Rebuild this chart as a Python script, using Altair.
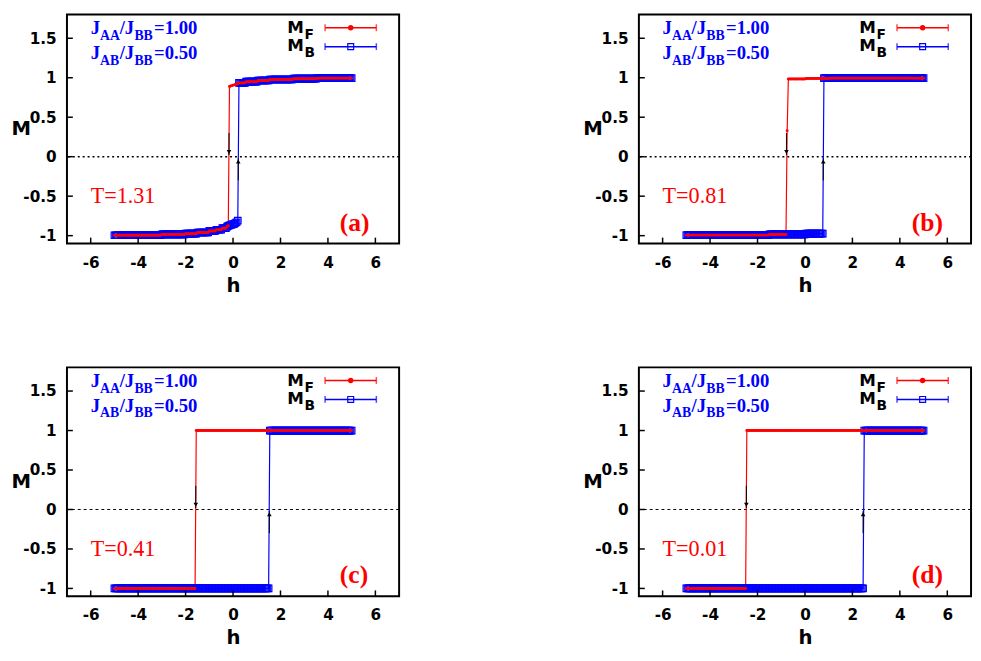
import altair as alt
import pandas as pd

# ---------------- data ----------------
H_GRID = [round(-5 + 0.05 * i, 2) for i in range(201)]

LOW_A = ([-0.995] * 40 + [-0.985] * 20 + [-0.975] * 10 + [-0.96] * 10 + [-0.94] * 6
         + [-0.925] * 5 + [-0.905] * 4 + [-0.885, -0.875])
HIGH_TAIL_A = [0.95] * 10 + [0.965] * 10 + [0.978] * 20 + [0.988] * 20 + [0.995] * 30

MF_A = (LOW_A + [0.89, 0.895, 0.90, 0.905, 0.91, 0.915, 0.92, 0.925]
        + [0.935] * 6 + HIGH_TAIL_A)
MB_A = (LOW_A + [-0.87, -0.865, -0.86, -0.855, -0.85, -0.84, -0.83, -0.81]
        + [0.935] * 6 + HIGH_TAIL_A)
MF_B = [-0.993] * 70 + [-0.985] * 15 + [0.33] + [0.985] * 15 + [0.99] * 20 + [0.995] * 80
MB_B = [-0.993] * 70 + [-0.985] * 31 + [-0.975] * 15 + [0.995] * 85
MF_C = [-1.0] * 69 + [1.0] * 132
MB_C = [-1.0] * 131 + [1.0] * 70
MF_D = [-1.0] * 51 + [1.0] * 150
MB_D = [-1.0] * 150 + [1.0] * 51

MF_ALL = [MF_A, MF_B, MF_C, MF_D]
MB_ALL = [MB_A, MB_B, MB_C, MB_D]
TEMPS = ["T=1.31", "T=0.81", "T=0.41", "T=0.01"]
TAGS = ["(a)", "(b)", "(c)", "(d)"]
ARROW_F = [-0.17, -0.78, -1.57, -2.47]
ARROW_B = [0.22, 0.77, 1.53, 2.45]
X_TICKS = [-6, -4, -2, 0, 2, 4, 6]
Y_TICKS = [-1, -0.5, 0, 0.5, 1, 1.5]
J_LINES = [["J", "AA", "/J", "BB", "=1.00"], ["J", "AB", "/J", "BB", "=0.50"]]
LEGEND_NAMES = [("M", "F"), ("M", "B")]

# ---------------- style / layout ----------------
W, H = 338, 233
RED, BLUE = "#ff0000", "#0000ff"
SERIF, SANS = "Liberation Serif", "DejaVu Sans"
PXH = W / 14.0
J_DX = [0, 9.5, 29.5, 44.5, 64.5]


def panel(i):
    xs = alt.Scale(domain=[-7, 7], nice=False, zero=False)
    ys = alt.Scale(domain=[-1.1, 1.8], nice=False, zero=False)
    xax = alt.Axis(values=X_TICKS, labelExpr="'' + datum.value", ticks=False, tickSize=0,
                   domain=False, grid=False, labelPadding=12, labelFont=SANS,
                   labelFontWeight="bold", labelFontSize=15.5, labelColor="black",
                   titleFont=SANS, titleFontWeight="bold", titleFontSize=20,
                   titleColor="black", titlePadding=5)
    yax = alt.Axis(values=Y_TICKS, labelExpr="'' + datum.value", ticks=False, tickSize=0,
                   domain=False, grid=False, labelPadding=11, labelFont=SANS,
                   labelFontWeight="bold", labelFontSize=15.5, labelColor="black",
                   titleFont=SANS, titleFontWeight="bold", titleFontSize=20,
                   titleColor="black", titleAngle=0, titleX=-57, titleY=H / 2,
                   titleAlign="left", titleBaseline="middle")

    def X(f):
        return alt.X(f + ":Q", scale=xs, axis=xax, title="h")

    def Y(f):
        return alt.Y(f + ":Q", scale=ys, axis=yax, title="M")

    dash = [2, 3] if i < 2 else [3, 3]
    zero = alt.Chart(pd.DataFrame({"M": [0]})).mark_rule(
        color="black", strokeDash=dash, strokeWidth=1.5 if i < 2 else 1).encode(y=Y("M"))

    fdf = pd.DataFrame({"h": H_GRID, "M": MF_ALL[i]})
    bdf = pd.DataFrame({"h": H_GRID, "M": MB_ALL[i]})
    red_line = alt.Chart(fdf).mark_line(color=RED, strokeWidth=1.2).encode(x=X("h"), y=Y("M"))
    red_pts = alt.Chart(fdf).mark_point(shape="circle", filled=True, size=9, color=RED,
                                        opacity=1).encode(x=X("h"), y=Y("M"))
    blue_line = alt.Chart(bdf).mark_line(color=BLUE, strokeWidth=1.2).encode(x=X("h"), y=Y("M"))
    blue_pts = alt.Chart(bdf).mark_point(shape="square", filled=False, size=44, strokeWidth=1.2,
                                         color=BLUE, opacity=1).encode(x=X("h"), y=Y("M"))

    adf = pd.DataFrame({"h": [ARROW_F[i], ARROW_B[i]], "M": [0.3, -0.3], "M2": [0.02, -0.02]})
    shafts = alt.Chart(adf).mark_rule(color="black", strokeWidth=1).encode(
        x=X("h"), y=Y("M"), y2=alt.Y2("M2", title="M"))
    hdf = pd.DataFrame({"h": [ARROW_F[i], ARROW_B[i]], "M": [0.06, -0.06],
                        "shape": ["triangle-down", "triangle-up"]})
    heads = alt.Chart(hdf).mark_point(filled=True, size=22, color="black", opacity=1).encode(
        x=X("h"), y=Y("M"), shape=alt.Shape("shape:N", scale=None))

    xt = alt.Chart(pd.DataFrame({"h": X_TICKS})).mark_rule(color="black", strokeWidth=1.5).encode(
        x=X("h"), y=alt.value(H), y2=alt.value(H - 6))
    yt = alt.Chart(pd.DataFrame({"M": Y_TICKS})).mark_rule(color="black", strokeWidth=1.5).encode(
        y=Y("M"), x=alt.value(0), x2=alt.value(6))

    # J ratio annotations
    j_main, j_sub = [], []
    for line, mval in zip(J_LINES, [1.553, 1.24]):
        for k, piece in enumerate(line):
            row = {"h": -6.0 + J_DX[k] / PXH, "M": mval, "t": piece}
            (j_sub if k % 2 == 1 else j_main).append(row)
    jm = alt.Chart(pd.DataFrame(j_main)).mark_text(
        font=SERIF, fontWeight="bold", fontSize=19, color=BLUE, align="left",
        baseline="alphabetic").encode(x=X("h"), y=Y("M"), text="t:N")
    js = alt.Chart(pd.DataFrame(j_sub)).mark_text(
        font=SERIF, fontWeight="bold", fontSize=14, color=BLUE, align="left",
        baseline="alphabetic", dy=6).encode(x=X("h"), y=Y("M"), text="t:N")

    temp = alt.Chart(pd.DataFrame({"h": [-6.0], "M": [-0.585], "t": [TEMPS[i]]})).mark_text(
        font=SERIF, fontSize=22.5, color=RED, align="left", baseline="alphabetic").encode(
        x=X("h"), y=Y("M"), text="t:N")
    tag = alt.Chart(pd.DataFrame({"h": [4.5], "M": [-0.935], "t": [TAGS[i]]})).mark_text(
        font=SERIF, fontWeight="bold", fontSize=26, color=RED, align="left",
        baseline="alphabetic").encode(x=X("h"), y=Y("M"), text="t:N")

    # legend
    lm = alt.Chart(pd.DataFrame({"h": [2.29, 2.29], "M": [1.565, 1.333],
                                 "t": [n[0] for n in LEGEND_NAMES]})).mark_text(
        font=SANS, fontWeight="bold", fontSize=17, color="black", align="left",
        baseline="alphabetic").encode(x=X("h"), y=Y("M"), text="t:N")
    ls = alt.Chart(pd.DataFrame({"h": [2.29 + 17.5 / PXH] * 2, "M": [1.565, 1.333],
                                 "t": [n[1] for n in LEGEND_NAMES]})).mark_text(
        font=SANS, fontWeight="bold", fontSize=14, color="black", align="left",
        baseline="alphabetic", dy=6).encode(x=X("h"), y=Y("M"), text="t:N")
    ldf = pd.DataFrame({"h": [3.88, 3.88], "h2": [6.04, 6.04], "M": [1.634, 1.394],
                        "c": [RED, BLUE]})
    leg_lines = alt.Chart(ldf).mark_rule(strokeWidth=1.5).encode(
        x=X("h"), x2=alt.X2("h2", title="h"), y=Y("M"), color=alt.Color("c:N", scale=None))
    cdf = pd.DataFrame({"h": [3.88, 6.04, 3.88, 6.04], "M": [1.634, 1.634, 1.394, 1.394],
                        "c": [RED, RED, BLUE, BLUE]})
    caps = alt.Chart(cdf).mark_tick(orient="vertical", size=7, thickness=1.5).encode(
        x=X("h"), y=Y("M"), color=alt.Color("c:N", scale=None))
    leg_red = alt.Chart(pd.DataFrame({"h": [4.96], "M": [1.634]})).mark_point(
        shape="circle", filled=True, size=30, color=RED, opacity=1).encode(x=X("h"), y=Y("M"))
    leg_blue = alt.Chart(pd.DataFrame({"h": [4.96], "M": [1.394]})).mark_point(
        shape="square", filled=False, size=36, strokeWidth=1.2, color=BLUE, opacity=1).encode(
        x=X("h"), y=Y("M"))

    return alt.layer(zero, red_line, blue_line, blue_pts, red_pts, shafts, heads, xt, yt,
                     jm, js, temp, tag, lm, ls, leg_lines, caps, leg_red, leg_blue).properties(
        width=W, height=H)


panels = [panel(i) for i in range(4)]
SH, SV = 184, 71
chart = alt.vconcat(
    alt.hconcat(panels[0], panels[1], spacing=SH),
    alt.hconcat(panels[2], panels[3], spacing=SH),
    spacing=SV,
).properties(
    padding={"left": 2, "top": 0, "right": 0, "bottom": 0}
).configure_view(stroke="black", strokeWidth=2).configure_axis(grid=False)

chart.save("out.html", embed_options={"renderer": "svg", "actions": False})
